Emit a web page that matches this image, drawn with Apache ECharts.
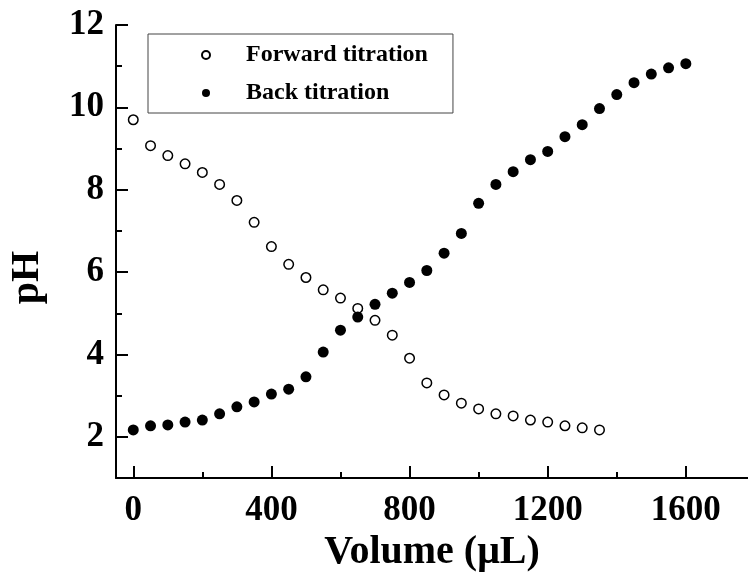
<!DOCTYPE html>
<html>
<head>
<meta charset="utf-8">
<script src="https://cdn.jsdelivr.net/npm/echarts@6/dist/echarts.min.js"></script>
<style>
  html, body { margin: 0; padding: 0; background: #fff; }
  #chart { width: 748px; height: 578px; }
</style>
</head>
<body>
<div id="chart"></div>
<script>
// volumes (µL) and pH readings
const forwardVolume = [0, 50, 100, 150, 200, 250, 300, 350, 400, 450, 500, 550, 600, 650,
  700, 750, 800, 850, 900, 950, 1000, 1050, 1100, 1150, 1200, 1250, 1300, 1350];
const forwardPH = [9.70, 9.07, 8.83, 8.63, 8.42, 8.13, 7.74, 7.21, 6.62, 6.19, 5.87, 5.57, 5.37, 5.12,
  4.83, 4.47, 3.91, 3.31, 3.02, 2.82, 2.68, 2.56, 2.51, 2.41, 2.36, 2.27, 2.22, 2.17];

const backVolume = [0, 50, 100, 150, 200, 250, 300, 350, 400, 450, 500, 550, 600, 650,
  700, 750, 800, 850, 900, 950, 1000, 1050, 1100, 1150, 1200, 1250, 1300, 1350,
  1400, 1450, 1500, 1550, 1600];
const backPH = [2.17, 2.27, 2.29, 2.36, 2.41, 2.56, 2.73, 2.85, 3.04, 3.16, 3.46, 4.06, 4.59, 4.91,
  5.22, 5.49, 5.75, 6.04, 6.46, 6.94, 7.67, 8.13, 8.44, 8.73, 8.93, 9.29, 9.58, 9.97,
  10.31, 10.60, 10.81, 10.96, 11.06];

// ticks
const xMajorTicks = [0, 400, 800, 1200, 1600];
const xMinorTicks = [200, 600, 1000, 1400];
const yMajorTicks = [2, 4, 6, 8, 10, 12];
const yMinorTicks = [3, 5, 7, 9, 11];

const FONT = '"Liberation Serif", "Times New Roman", serif';

function pairs(xs, ys) {
  return xs.map((x, i) => [x, ys[i]]);
}

let chart = echarts.init(document.getElementById('chart'));

let option = {
  animation: false,
  backgroundColor: '#fff',
  grid: { left: 116, right: 0, top: 25, bottom: 99 },
  legend: {
    orient: 'vertical',
    left: 148,
    top: 34,
    padding: [9, 25, 8, 53],
    itemWidth: 70,
    itemHeight: 8,
    itemGap: 14,
    borderColor: '#444',
    borderWidth: 1,
    textStyle: { fontFamily: FONT, fontWeight: 'bold', fontSize: 24, color: '#000' },
    data: ['Forward titration', 'Back titration']
  },
  xAxis: [
    {
      type: 'value',
      min: -50,
      max: 1780,
      position: 'bottom',
      name: 'Volume (μL)',
      nameLocation: 'middle',
      nameGap: 47,
      nameTextStyle: { fontFamily: FONT, fontWeight: 'bold', fontSize: 40, color: '#000' },
      axisLine: { show: true, onZero: false, lineStyle: { color: '#000', width: 2 } },
      axisTick: { show: true, inside: true, length: 12, customValues: xMajorTicks,
        lineStyle: { color: '#000', width: 2 } },
      axisLabel: { customValues: xMajorTicks, margin: 15, fontFamily: FONT, fontWeight: 'bold',
        fontSize: 35, color: '#000', formatter: v => String(v) },
      splitLine: { show: false }
    },
    {
      type: 'value',
      min: -50,
      max: 1780,
      position: 'bottom',
      axisLine: { show: false, onZero: false },
      axisTick: { show: true, inside: true, length: 6, customValues: xMinorTicks,
        lineStyle: { color: '#000', width: 2 } },
      axisLabel: { show: false },
      splitLine: { show: false }
    }
  ],
  yAxis: [
    {
      type: 'value',
      min: 1,
      max: 12,
      position: 'left',
      name: 'pH',
      nameLocation: 'middle',
      nameRotate: 90,
      nameGap: 68,
      nameTextStyle: { fontFamily: FONT, fontWeight: 'bold', fontSize: 40, color: '#000',
        padding: [0, 52, 0, 0] },
      axisLine: { show: true, onZero: false, lineStyle: { color: '#000', width: 2 } },
      axisTick: { show: true, inside: true, length: 12, customValues: yMajorTicks,
        lineStyle: { color: '#000', width: 2 } },
      axisLabel: { customValues: yMajorTicks, margin: 12, fontFamily: FONT, fontWeight: 'bold',
        fontSize: 35, color: '#000' },
      splitLine: { show: false }
    },
    {
      type: 'value',
      min: 1,
      max: 12,
      position: 'left',
      axisLine: { show: false, onZero: false },
      axisTick: { show: true, inside: true, length: 6, customValues: yMinorTicks,
        lineStyle: { color: '#000', width: 2 } },
      axisLabel: { show: false },
      splitLine: { show: false }
    }
  ],
  series: [
    {
      name: 'Forward titration',
      type: 'scatter',
      symbol: 'circle',
      symbolSize: 9.5,
      itemStyle: { color: '#fff', borderColor: '#000', borderWidth: 1.5, opacity: 1 },
      data: pairs(forwardVolume, forwardPH)
    },
    {
      name: 'Back titration',
      type: 'scatter',
      symbol: 'circle',
      symbolSize: 11,
      itemStyle: { color: '#000', opacity: 1 },
      data: pairs(backVolume, backPH)
    }
  ]
};

chart.setOption(option);
</script>
</body>
</html>
